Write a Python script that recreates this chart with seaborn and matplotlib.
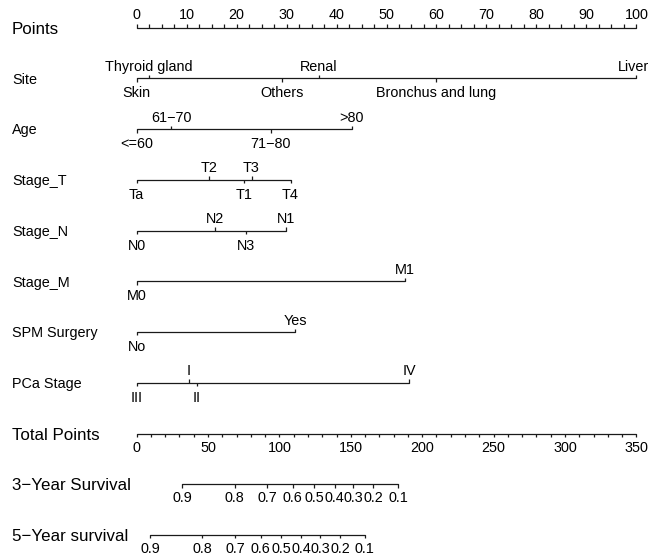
import numpy as np
import pandas as pd
import matplotlib
matplotlib.use("Agg")
import matplotlib.pyplot as plt
import seaborn as sns

sns.set_theme(style="white")
plt.rcParams["font.family"] = ["Liberation Sans", "DejaVu Sans"]

# ---------------- data ----------------
row_labels = ["Points", "Site", "Age", "Stage_T", "Stage_N", "Stage_M",
              "SPM Surgery", "PCa Stage", "Total Points",
              "3\u2212Year Survival", "5\u2212Year survival"]

site_levels = ["Skin", "Thyroid gland", "Others", "Renal", "Bronchus and lung", "Liver"]
site_points = [0, 2.5, 29.1, 36.5, 60.0, 100]

age_levels = ["<=60", "61\u221270", "71\u221280", ">80"]
age_points = [0, 6.9, 26.8, 43.0]

stage_t_levels = ["Ta", "T2", "T1", "T3", "T4"]
stage_t_points = [0, 14.5, 21.5, 23.0, 30.8]

stage_n_levels = ["N0", "N2", "N3", "N1"]
stage_n_points = [0, 15.7, 21.8, 29.9]

stage_m_levels = ["M0", "M1"]
stage_m_points = [0, 53.7]

spm_levels = ["No", "Yes"]
spm_points = [0, 31.7]

pca_levels = ["III", "I", "II", "IV"]
pca_points = [0, 10.4, 12.0, 54.6]

points_ticks = list(range(0, 101, 10))
total_ticks = list(range(0, 351, 50))

surv_labels = ["0.9", "0.8", "0.7", "0.6", "0.5", "0.4", "0.3", "0.2", "0.1"]
surv3_total = [32.0, 68.8, 91.3, 109.3, 124.3, 138.6, 151.5, 165.5, 183.3]
surv5_total = [9.4, 46.0, 68.9, 86.8, 101.4, 115.2, 128.4, 142.4, 159.9]

# label side for each level (above / below the axis line)
above = {"Thyroid gland", "Renal", "Liver", "61\u221270", ">80", "T2", "T3",
         "N2", "N1", "M1", "Yes", "I", "IV"}

# ---------------- layout ----------------
W, H = 649, 559
x0_px, x100_px = 136.6, 636.4
ppx = (x100_px - x0_px) / 100.0
row0_px, row_step = 27.7, 50.73

fig = plt.figure(figsize=(W / 100, H / 100), dpi=100)
fig.patch.set_facecolor("white")
ax = fig.add_axes([0, 0, 1, 1])
ax.set_xlim(-x0_px / ppx, (W - x0_px) / ppx)
ax.set_ylim((H - row0_px) / row_step, -row0_px / row_step)
ax.axis("off")

TL = 3.4 / row_step     # tick length in row units
LW = 0.9
COL = "#1a1a1a"
small_fs = 10.4
var_fs = 10.4
big_fs = 12.2

def lab_above(x, y, s, off=7.5, dx=0):
    ax.annotate(s, (x, y), xytext=(dx, off), textcoords="offset pixels",
                ha="center", va="baseline", fontsize=small_fs, color="black")

def lab_below(x, y, s, off=19.0):
    ax.annotate(s, (x, y), xytext=(0, -off), textcoords="offset pixels",
                ha="center", va="baseline", fontsize=small_fs, color="black")

# horizontal segments via seaborn
scale = 100.0 / 350.0
variables = [
    (1, site_levels, site_points),
    (2, age_levels, age_points),
    (3, stage_t_levels, stage_t_points),
    (4, stage_n_levels, stage_n_points),
    (5, stage_m_levels, stage_m_points),
    (6, spm_levels, spm_points),
    (7, pca_levels, pca_points),
]
segs = []
segs.append(pd.DataFrame({"x": [0, 100], "y": [0, 0], "seg": 0}))
for r, lv, pts in variables:
    segs.append(pd.DataFrame({"x": [min(pts), max(pts)], "y": [r, r], "seg": r}))
segs.append(pd.DataFrame({"x": [0, 350 * scale], "y": [8, 8], "seg": 8}))
segs.append(pd.DataFrame({"x": [surv3_total[0] * scale, surv3_total[-1] * scale],
                          "y": [9, 9], "seg": 9}))
segs.append(pd.DataFrame({"x": [surv5_total[0] * scale, surv5_total[-1] * scale],
                          "y": [10, 10], "seg": 10}))
seg_df = pd.concat(segs, ignore_index=True)
sns.lineplot(data=seg_df, x="x", y="y", units="seg", estimator=None,
             color=COL, linewidth=LW, ax=ax, legend=False, sort=False)

# Points axis
minor = np.arange(0, 100.01, 2.5)
ax.vlines(minor, 0, -TL, color=COL, lw=LW)
for t in points_ticks:
    lab_above(t, 0, str(t), off=8.7)

# variable axes
for r, lv, pts in variables:
    for name, p in zip(lv, pts):
        if name in above:
            ax.vlines(p, r, r - TL, color=COL, lw=LW)
            lab_above(p, r, name, dx=(-2.5 if p >= 99 else 0))
        else:
            ax.vlines(p, r, r + TL, color=COL, lw=LW)
            lab_below(p, r, name)

# Total points axis
tminor = np.arange(0, 350.01, 10) * scale
ax.vlines(tminor, 8, 8 + TL, color=COL, lw=LW)
for t in total_ticks:
    lab_below(t * scale, 8, str(t), off=18.3)

# survival axes
for r, tot in ((9, surv3_total), (10, surv5_total)):
    xs = np.array(tot) * scale
    ax.vlines(xs, r, r + TL, color=COL, lw=LW)
    for x, s in zip(xs, surv_labels):
        lab_below(x, r, s, off=18.0)

# row labels (cap-height centred on the axis line)
trans = matplotlib.transforms.blended_transform_factory(ax.transAxes, ax.transData)
for i, name in enumerate(row_labels):
    fs = big_fs if i in (0, 8, 9, 10) else var_fs
    cap_px = fs * 100 / 72 * 0.716
    ax.annotate(name, (12 / W, i), xycoords=trans,
                xytext=(0, -cap_px / 2), textcoords="offset pixels",
                ha="left", va="baseline", fontsize=fs, color="black")

fig.savefig("out.png", dpi=100, facecolor="white")
